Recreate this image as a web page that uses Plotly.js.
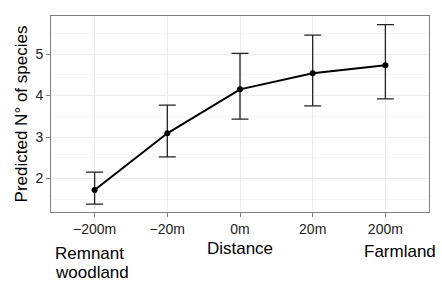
<!DOCTYPE html>
<html>
<head>
<meta charset="utf-8">
<script src="https://cdn.plot.ly/plotly-3.0.1.min.js"></script>
<style>html,body{margin:0;padding:0;background:#fff;}#chart{width:442px;height:282px;}</style>
</head>
<body>
<div id="chart"></div>
<script>
const categories = ["\u2212200m", "\u221220m", "0m", "20m", "200m"];
const predicted = [1.72, 3.09, 4.15, 4.54, 4.73];
const upper = [2.15, 3.77, 5.02, 5.46, 5.71];
const lower = [1.38, 2.52, 3.43, 3.75, 3.92];
const yTickVals = [2, 3, 4, 5];

const xIdx = categories.map((c, i) => i);
const errPlus = upper.map((u, i) => u - predicted[i]);
const errMinus = lower.map((l, i) => predicted[i] - l);

const font = "Liberation Sans, Arial, Helvetica, sans-serif";

const trace = {
  x: xIdx,
  y: predicted,
  type: "scatter",
  mode: "lines+markers",
  line: {color: "#000", width: 2},
  marker: {color: "#000", size: 6},
  error_y: {type: "data", symmetric: false, array: errPlus, arrayminus: errMinus,
            color: "#222", thickness: 1.3, width: 8.5},
  hoverinfo: "skip"
};

const layout = {
  width: 442, height: 282,
  margin: {l: 51, r: 13, t: 16, b: 70},
  paper_bgcolor: "#fff", plot_bgcolor: "#fff",
  showlegend: false,
  font: {family: font, color: "#000"},
  xaxis: {
    range: [-0.6, 4.6],
    tickvals: xIdx, ticktext: categories,
    tickfont: {size: 14, color: "#222"},
    ticks: "outside", ticklen: 4, tickcolor: "#7f7f7f", tickwidth: 1,
    showgrid: true, gridcolor: "#ebebeb", gridwidth: 1,
    zeroline: false, showline: true, linecolor: "#7f7f7f", mirror: true,
    title: {text: "Distance", font: {size: 17, color: "#000"}, standoff: 6}
  },
  yaxis: {
    range: [1.19, 5.92],
    tickvals: yTickVals,
    tickfont: {size: 14, color: "#222"},
    ticks: "outside", ticklen: 4, tickcolor: "#7f7f7f", tickwidth: 1,
    showgrid: true, gridcolor: "#ebebeb", gridwidth: 1,
    minor: {dtick: 0.5, tick0: 0.5, showgrid: true, gridcolor: "#f5f5f5", gridwidth: 1, ticks: ""},
    zeroline: false, showline: true, linecolor: "#7f7f7f", mirror: true,
    title: {text: "Predicted N\u00b0 of species", font: {size: 17, color: "#000"}, standoff: 3}
  },
  annotations: [
    {text: "Remnant", xref: "paper", yref: "paper",
     x: 0.005, y: -0.214, xanchor: "left", yanchor: "middle",
     showarrow: false, font: {size: 17, color: "#000"}},
    {text: "woodland", xref: "paper", yref: "paper",
     x: 0.005, y: -0.311, xanchor: "left", yanchor: "middle",
     showarrow: false, font: {size: 17, color: "#000"}},
    {text: "Farmland", xref: "paper", yref: "paper",
     x: 1.024, y: -0.203, xanchor: "right", yanchor: "middle",
     showarrow: false, font: {size: 17, color: "#000"}}
  ]
};

Plotly.newPlot("chart", [trace], layout, {displayModeBar: false, staticPlot: true});
</script>
</body>
</html>
